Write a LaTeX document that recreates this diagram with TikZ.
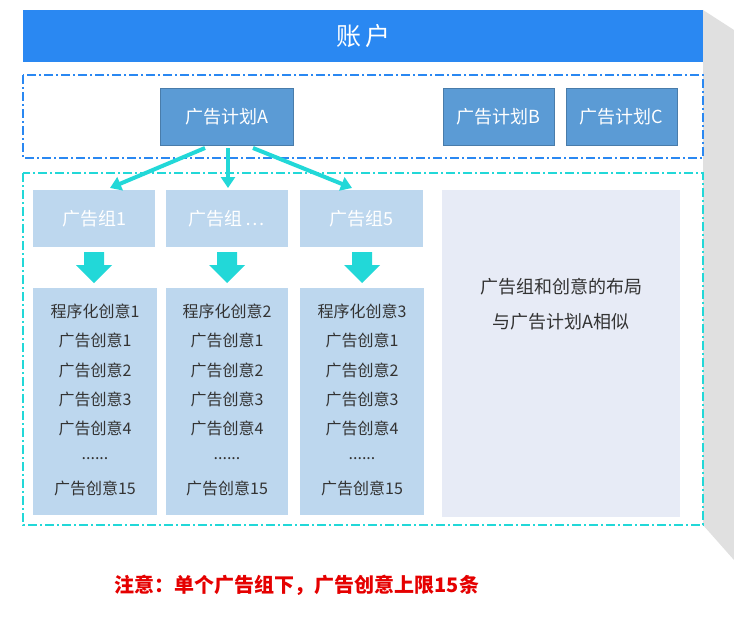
\documentclass[tikz,border=0pt]{standalone}
\usepackage{fontspec}
\setmainfont{Noto Sans CJK SC}
\usetikzlibrary{arrows.meta}
\definecolor{barblue}{HTML}{2A88F2}
\definecolor{planblue}{HTML}{5B9BD5}
\definecolor{lblue}{HTML}{BDD7EE}
\definecolor{teal}{HTML}{22D8D8}
\definecolor{panel}{HTML}{E7EBF6}
\definecolor{txt}{HTML}{333333}
\begin{document}
\begin{tikzpicture}[x=1pt,y=-1pt,
  plan/.style={fill=planblue,draw=planblue!80!black,line width=0.5pt,text=white,font=\fontsize{18}{18}\selectfont,inner sep=0},
  grp/.style={fill=lblue,draw=none,text=white,font=\fontsize{18}{18}\selectfont,inner sep=0},
  cre/.style={fill=lblue,draw=none},
  ct/.style={text=txt,font=\fontsize{16}{16}\selectfont},
  tarrow/.style={draw=teal,line width=4pt,-{Triangle[length=11pt,width=14pt]}},
  myborder/.style={line width=1.6pt,dash pattern=on 9pt off 3pt on 2pt off 3pt}]
\useasboundingbox (0,0) rectangle (734,618);
\fill[white] (0,0) rectangle (734,618);
\fill[black!12] (703,10) -- (734,30) -- (734,560) -- (703,525) -- cycle;
\node[fill=barblue,minimum width=680pt,minimum height=52pt,anchor=north west,inner sep=0,text=white,font=\fontsize{25}{25}\selectfont] (bar) at (23,10) {账\,户};
\draw[barblue,myborder] (23,75) rectangle (703,158);
\node[plan,minimum width=133pt,minimum height=57pt] (pa) at (226.5,116.5) {广告计划A};
\node[plan,minimum width=111pt,minimum height=57pt] (pb) at (498.5,116.5) {广告计划B};
\node[plan,minimum width=111pt,minimum height=57pt] (pc) at (621.5,116.5) {广告计划C};
\draw[teal,myborder] (23,173) rectangle (703,525);
\node[grp,minimum width=122pt,minimum height=57pt] (g1) at (94,218.5) {广告组1};
\node[grp,minimum width=122pt,minimum height=57pt] (g2) at (227,218.5) {广告组\,…};
\node[grp,minimum width=123pt,minimum height=57pt] (g3) at (361.5,218.5) {广告组5};
\coordinate (a1) at (205,148); \coordinate (a2) at (228,148); \coordinate (a3) at (253,148);
\draw[tarrow] (a1) -- (110,188);
\draw[tarrow] (a2) -- (228,188);
\draw[tarrow] (a3) -- (352,188);
\foreach \x in {94,227,362}{
  \fill[teal] (\x-10,252) -- (\x+10,252) -- (\x+10,265) -- (\x+18,265) -- (\x,283) -- (\x-18,265) -- (\x-10,265) -- cycle;
}
\foreach \x/\n/\w in {95/1/124,227/2/122,362/3/124}{
  \node[cre,minimum width=\w pt,minimum height=227pt,inner sep=0] (c\n) at (\x,401.5) {};
  \node[ct] at (\x,311) {程序化创意\n};
  \node[ct] at (\x,340) {广告创意1};
  \node[ct] at (\x,370) {广告创意2};
  \node[ct] at (\x,399) {广告创意3};
  \node[ct] at (\x,428) {广告创意4};
  \node[ct] at (\x,459) {......};
  \node[ct] at (\x,488) {广告创意15};
}
\node[fill=panel,minimum width=238pt,minimum height=327pt,inner sep=0] (pn) at (561,353.5) {};
\node[text=txt,font=\fontsize{18}{18}\selectfont] at (561,287) {广告组和创意的布局};
\node[text=txt,font=\fontsize{18}{18}\selectfont] at (561,322) {与广告计划A相似};
\node[text=red!90!black,font=\bfseries\fontsize{20}{20}\selectfont] (note) at (297,585) {注意：单个广告组下，广告创意上限15条};
\end{tikzpicture}
\end{document}
